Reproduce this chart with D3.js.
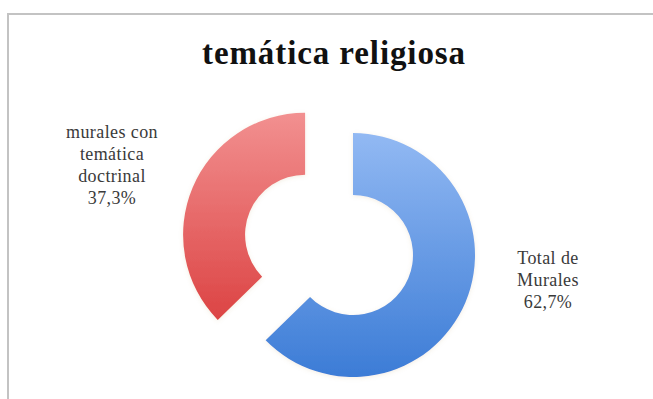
<!DOCTYPE html>
<html>
<head>
<meta charset="utf-8">
<script src="https://cdn.jsdelivr.net/npm/d3@7"></script>
<style>
  html, body { margin: 0; padding: 0; background: #ffffff; }
  svg { display: block; }
</style>
</head>
<body>
<svg id="chart" width="653" height="399"></svg>
<script>
// Share of murals by theme
const categories = ["Total de Murales", "murales con temática doctrinal"];
const values = [62.7, 37.3];
const labelLines = [
  ["Total de", "Murales", "62,7%"],
  ["murales con", "temática", "doctrinal", "37,3%"]
];
const exploded = [false, true];
const title = "temática religiosa";

const W = 653, H = 399;
const cx = 353, cy = 255;
const outerR = 122, innerR = 60;
const explodeDist = 52;

const svg = d3.select("#chart");

// chart area frame (runs off the right and bottom edges)
svg.append("rect")
  .attr("x", 8).attr("y", 14)
  .attr("width", W + 20).attr("height", H + 20)
  .attr("fill", "#ffffff")
  .attr("stroke", "#c3c3c3")
  .attr("stroke-width", 2);

const defs = svg.append("defs");
const gradStops = [
  ["#92b9f3", "#3c7cd6"],
  ["#f29090", "#dc4444"]
];
gradStops.forEach((s, i) => {
  const g = defs.append("linearGradient")
    .attr("id", "grad" + i)
    .attr("x1", 0).attr("y1", 0).attr("x2", 0).attr("y2", 1);
  g.append("stop").attr("offset", "0%").attr("stop-color", s[0]);
  g.append("stop").attr("offset", "100%").attr("stop-color", s[1]);
});
const shadow = defs.append("filter").attr("id", "soft")
  .attr("x", "-20%").attr("y", "-20%").attr("width", "140%").attr("height", "140%");
shadow.append("feDropShadow")
  .attr("dx", 0).attr("dy", 1).attr("stdDeviation", 2)
  .attr("flood-color", "#b89a60").attr("flood-opacity", 0.18);

const pie = d3.pie().sort(null).value(d => d)(values);
const arc = d3.arc().innerRadius(innerR).outerRadius(outerR);

const g = svg.append("g").attr("transform", `translate(${cx},${cy})`);
g.selectAll("path.slice")
  .data(pie)
  .join("path")
  .attr("class", "slice")
  .attr("d", arc)
  .attr("fill", (d, i) => `url(#grad${i})`)
  .attr("filter", "url(#soft)")
  .attr("transform", (d, i) => {
    if (!exploded[i]) return null;
    const mid = (d.startAngle + d.endAngle) / 2;
    return `translate(${explodeDist * Math.sin(mid)},${-explodeDist * Math.cos(mid)})`;
  });

// title
svg.append("text")
  .attr("x", 334).attr("y", 64)
  .attr("text-anchor", "middle")
  .attr("font-family", "'Liberation Serif', 'DejaVu Serif', serif")
  .attr("font-weight", "bold")
  .attr("font-size", 33)
  .attr("letter-spacing", 0.9)
  .attr("fill", "#111111")
  .text(title);

// data labels
const labelPos = [
  { x: cx + 195, y: 264 },
  { x: cx - 241, y: 138 }
];
const lineH = 22;
labelLines.forEach((lines, i) => {
  const t = svg.append("text")
    .attr("text-anchor", "middle")
    .attr("font-family", "'Liberation Serif', 'DejaVu Serif', serif")
    .attr("font-size", 18)
    .attr("letter-spacing", 0.4)
    .attr("fill", "#3a3a3a");
  lines.forEach((ln, j) => {
    t.append("tspan")
      .attr("x", labelPos[i].x)
      .attr("y", labelPos[i].y + j * lineH)
      .text(ln);
  });
});
</script>
</body>
</html>
